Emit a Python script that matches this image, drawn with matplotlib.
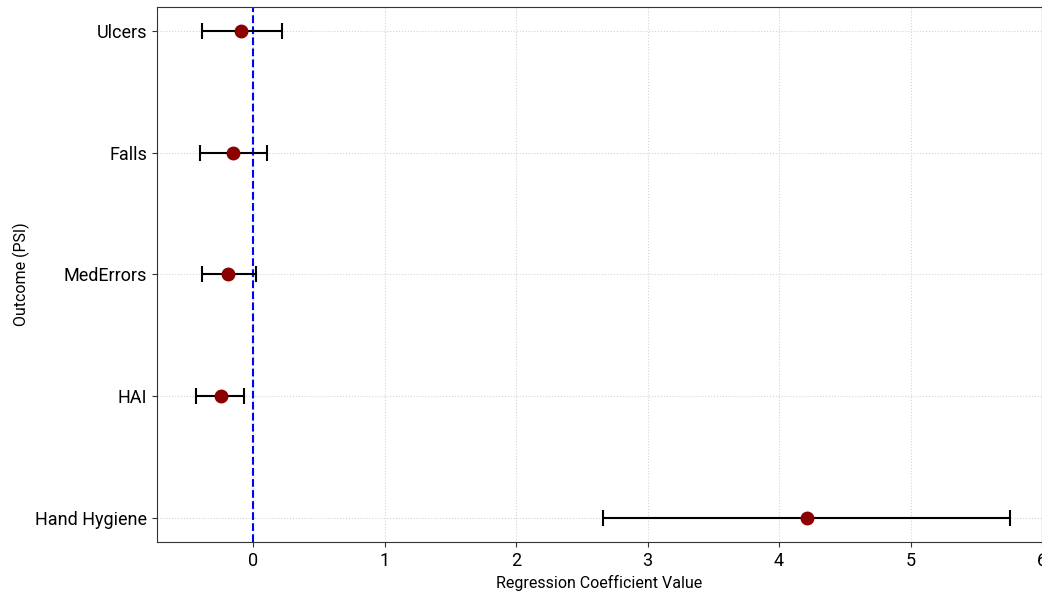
import numpy as np
import matplotlib.pyplot as plt

plt.rcParams['font.family'] = ['Roboto', 'DejaVu Sans']

# regression coefficients with confidence intervals
outcomes = ['Hand Hygiene', 'HAI', 'MedErrors', 'Falls', 'Ulcers']
coef = [4.21, -0.24, -0.19, -0.15, -0.09]
ci_low = [2.66, -0.43, -0.39, -0.40, -0.39]
ci_high = [5.76, -0.07, 0.02, 0.11, 0.22]

coef = np.array(coef)
err = [coef - np.array(ci_low), np.array(ci_high) - coef]
y = np.arange(len(outcomes))

fig = plt.figure(figsize=(10.42, 5.92), dpi=100)
ax = fig.add_axes([0.1507, 0.0845, 0.8493, 0.9037])

ax.errorbar(coef, y, xerr=err, fmt='o', color='darkred', ecolor='black',
            elinewidth=1.5, capsize=6, capthick=1.5, markersize=9, zorder=3)
ax.axvline(0, color='blue', linestyle='--', linewidth=1.5, zorder=2)

ax.set_yticks(y)
ax.set_yticklabels(outcomes, fontsize=13)
ax.tick_params(axis='x', labelsize=13)
ax.tick_params(colors='#333333', labelcolor='black')
for s in ax.spines.values():
    s.set_color('#333333')
ax.set_xlim(-0.73, 6.0)
ax.set_xlabel('Regression Coefficient Value', fontsize=11.5)
ax.set_ylabel('Outcome (PSI)', fontsize=11.5)
ax.grid(True, linestyle=':', color='lightgray', linewidth=0.8)
ax.set_axisbelow(True)

fig.savefig('out.png', dpi=100)
